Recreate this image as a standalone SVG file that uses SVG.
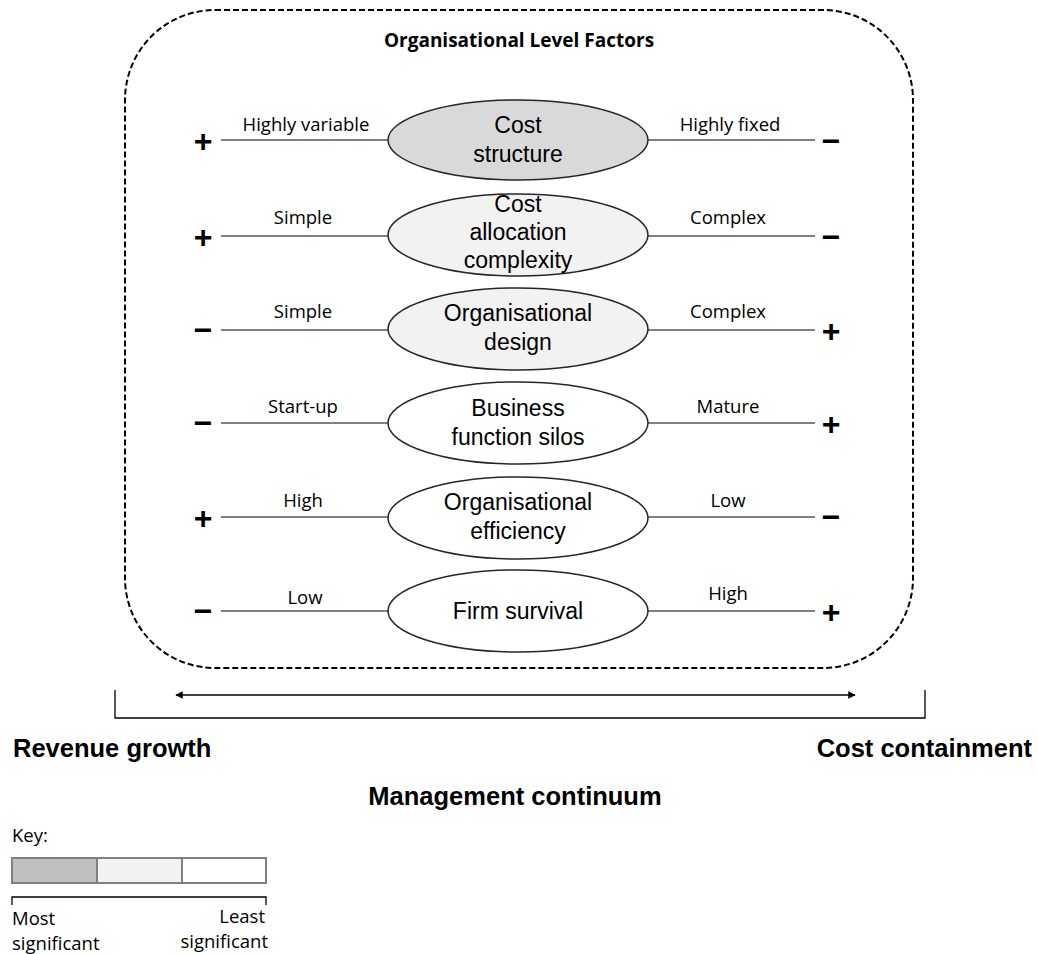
<svg xmlns="http://www.w3.org/2000/svg" width="1038" height="954" viewBox="0 0 1038 954">
  <defs>
    <marker id="arrowHead" viewBox="0 0 10 10" refX="9" refY="5" markerWidth="5" markerHeight="5" orient="auto-start-reverse">
      <path d="M0,0 L10,5 L0,10 z" fill="#000"/>
    </marker>
    <style>
      .frame { fill: none; stroke: #000; stroke-width: 2; stroke-dasharray: 6 3; }
      .factor { stroke: #262626; stroke-width: 1.5; }
      .dark { fill: #d9d9d9; }
      .light { fill: #f2f2f2; }
      .plain { fill: #ffffff; }
      .link { stroke: #808080; stroke-width: 2; fill: none; }
      .ftext { font-family: "Liberation Sans", Arial, sans-serif; font-size: 23px; fill: #000; text-anchor: middle; }
      .pole { font-family: "Open Sans", "Liberation Sans", sans-serif; font-size: 18.5px; fill: #000; text-anchor: middle; }
      .sign { font-family: "Liberation Sans", Arial, sans-serif; font-size: 32px; font-weight: bold; fill: #000; text-anchor: middle; }
      .axis { font-family: "Liberation Sans", Arial, sans-serif; font-size: 25.5px; font-weight: bold; fill: #000; }
      .title { font-family: "Open Sans", "Liberation Sans", sans-serif; font-size: 19px; font-weight: bold; fill: #000; text-anchor: middle; }
      .key { font-family: "Open Sans", "Liberation Sans", sans-serif; font-size: 18.5px; fill: #000; }
      .keybox { stroke: #808080; stroke-width: 2; }
    </style>
  </defs>

  <!-- outer dashed boundary -->
  <rect class="frame" x="125" y="10" width="788" height="658" rx="90" ry="90"/>
  <text class="title" x="519" y="47">Organisational Level Factors</text>

  <!-- connectors: pole lines either side of each factor -->
  <g id="connectors">
    <line class="link" x1="221" y1="140" x2="389" y2="140"/>
    <line class="link" x1="647" y1="140" x2="815" y2="140"/>
    <line class="link" x1="221" y1="236" x2="389" y2="236"/>
    <line class="link" x1="647" y1="236" x2="815" y2="236"/>
    <line class="link" x1="221" y1="330" x2="389" y2="330"/>
    <line class="link" x1="647" y1="330" x2="815" y2="330"/>
    <line class="link" x1="221" y1="423" x2="389" y2="423"/>
    <line class="link" x1="647" y1="423" x2="815" y2="423"/>
    <line class="link" x1="221" y1="517" x2="389" y2="517"/>
    <line class="link" x1="647" y1="517" x2="815" y2="517"/>
    <line class="link" x1="221" y1="611" x2="389" y2="611"/>
    <line class="link" x1="647" y1="611" x2="815" y2="611"/>
  </g>

  <g id="cost-structure">
    <ellipse class="factor dark" cx="518" cy="140" rx="130" ry="40"/>
    <text class="ftext" x="518" y="133">Cost</text>
    <text class="ftext" x="518" y="162">structure</text>
    <text class="pole" x="306" y="131">Highly variable</text>
    <text class="pole" x="730" y="131">Highly fixed</text>
    <text class="sign" x="203" y="152">+</text>
    <text class="sign" x="831" y="152">−</text>
  </g>

  <g id="cost-allocation">
    <ellipse class="factor light" cx="518" cy="235" rx="130" ry="41"/>
    <text class="ftext" x="518" y="212">Cost</text>
    <text class="ftext" x="518" y="240">allocation</text>
    <text class="ftext" x="518" y="268">complexity</text>
    <text class="pole" x="303" y="224">Simple</text>
    <text class="pole" x="728" y="224">Complex</text>
    <text class="sign" x="203" y="248">+</text>
    <text class="sign" x="831" y="248">−</text>
  </g>

  <g id="organisational-design">
    <ellipse class="factor light" cx="518" cy="329" rx="130" ry="41"/>
    <text class="ftext" x="518" y="321">Organisational</text>
    <text class="ftext" x="518" y="350">design</text>
    <text class="pole" x="303" y="318">Simple</text>
    <text class="pole" x="728" y="318">Complex</text>
    <text class="sign" x="203" y="341">−</text>
    <text class="sign" x="831" y="342">+</text>
  </g>

  <g id="business-function-silos">
    <ellipse class="factor plain" cx="518" cy="423" rx="130" ry="41"/>
    <text class="ftext" x="518" y="416">Business</text>
    <text class="ftext" x="518" y="445">function silos</text>
    <text class="pole" x="303" y="413">Start-up</text>
    <text class="pole" x="728" y="413">Mature</text>
    <text class="sign" x="203" y="434">−</text>
    <text class="sign" x="831" y="435">+</text>
  </g>

  <g id="organisational-efficiency">
    <ellipse class="factor plain" cx="518" cy="518" rx="130" ry="41"/>
    <text class="ftext" x="518" y="510">Organisational</text>
    <text class="ftext" x="518" y="539">efficiency</text>
    <text class="pole" x="303" y="507">High</text>
    <text class="pole" x="728" y="507">Low</text>
    <text class="sign" x="203" y="529">+</text>
    <text class="sign" x="831" y="528">−</text>
  </g>

  <g id="firm-survival">
    <ellipse class="factor plain" cx="518" cy="611" rx="130" ry="41"/>
    <text class="ftext" x="518" y="619">Firm survival</text>
    <text class="pole" x="305" y="604">Low</text>
    <text class="pole" x="728" y="600">High</text>
    <text class="sign" x="203" y="622">−</text>
    <text class="sign" x="831" y="623">+</text>
  </g>

  <!-- management continuum axis -->
  <g id="continuum">
    <path d="M115,690 L115,718 L925,718 L925,690" fill="none" stroke="#000" stroke-width="1.3"/>
    <line x1="176" y1="695" x2="855" y2="695" stroke="#000" stroke-width="1.5" marker-start="url(#arrowHead)" marker-end="url(#arrowHead)"/>
    <text class="axis" x="13" y="757">Revenue growth</text>
    <text class="axis" x="1032" y="757" text-anchor="end">Cost containment</text>
    <text class="axis" x="515" y="805" text-anchor="middle">Management continuum</text>
  </g>

  <!-- key -->
  <g id="key">
    <text class="key" x="12" y="842">Key:</text>
    <rect class="keybox" x="12" y="858" width="85" height="25" fill="#bfbfbf"/>
    <rect class="keybox" x="97" y="858" width="85" height="25" fill="#f2f2f2"/>
    <rect class="keybox" x="182" y="858" width="84" height="25" fill="#ffffff"/>
    <path d="M12,905 L12,897 L266,897 L266,905" fill="none" stroke="#000" stroke-width="1.3"/>
    <text class="key" x="12" y="925">Most</text>
    <text class="key" x="12" y="950">significant</text>
    <text class="key" x="265" y="923" text-anchor="end">Least</text>
    <text class="key" x="268" y="948" text-anchor="end">significant</text>
  </g>
</svg>
